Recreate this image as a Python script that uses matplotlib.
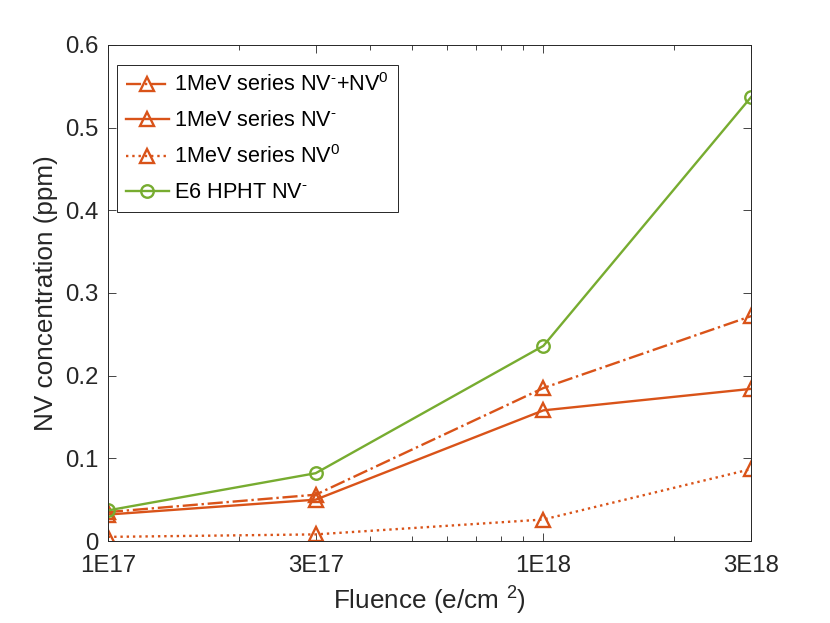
import numpy as np
import matplotlib
matplotlib.use("Agg")
import matplotlib.pyplot as plt
from matplotlib.ticker import FixedLocator, LogLocator, NullFormatter

# ── data ──────────────────────────────────────────────────────────────────────
fluence = [1e17, 3e17, 1e18, 3e18]
fluence_labels = ["1E17", "3E17", "1E18", "3E18"]

nv_total_1mev = [0.035, 0.056, 0.185, 0.272]
nv_minus_1mev = [0.032, 0.050, 0.158, 0.184]
nv_zero_1mev = [0.005, 0.008, 0.026, 0.087]
nv_minus_e6 = [0.037, 0.082, 0.236, 0.537]

yticks = [0, 0.1, 0.2, 0.3, 0.4, 0.5, 0.6]
ytick_labels = ["0", "0.1", "0.2", "0.3", "0.4", "0.5", "0.6"]

orange = "#D95319"
green = "#77AC30"
dark = "#262626"

plt.rcParams["font.family"] = ["Liberation Sans", "DejaVu Sans"]
plt.rcParams["mathtext.fontset"] = "custom"
plt.rcParams["mathtext.rm"] = "Liberation Sans"
plt.rcParams["mathtext.it"] = "Liberation Sans:italic"
plt.rcParams["font.size"] = 17.3

fig = plt.figure(figsize=(8.3, 6.23), dpi=100)
ax = fig.add_axes([0.130, 0.1316, 0.775, 0.7964])

# ── lines ─────────────────────────────────────────────────────────────────────
mk = dict(markersize=10.5, markeredgewidth=1.7, markerfacecolor="none", lw=1.7)
ax.plot(fluence, nv_total_1mev, "-.^", color=orange,
        label=r"1MeV series NV$^{\text{-}}$+NV$^{0}$", **mk)
ax.plot(fluence, nv_minus_1mev, "-^", color=orange,
        label=r"1MeV series NV$^{\text{-}}$", **mk)
ax.plot(fluence, nv_zero_1mev, ":^", color=orange,
        label=r"1MeV series NV$^{0}$", **mk)
ax.plot(fluence, nv_minus_e6, "-o", color=green, label=r"E6 HPHT NV$^{\text{-}}$",
        markersize=9, markeredgewidth=1.7, markerfacecolor="none", lw=1.7)

# ── axes ──────────────────────────────────────────────────────────────────────
ax.set_xscale("log")
ax.set_xlim(1e17, 3e18)
ax.set_ylim(0, 0.6)
ax.xaxis.set_major_locator(FixedLocator(fluence))
ax.set_xticklabels(fluence_labels)
ax.xaxis.set_minor_locator(LogLocator(base=10, subs=np.arange(2, 10)))
ax.xaxis.set_minor_formatter(NullFormatter())
ax.set_yticks(yticks)
ax.set_yticklabels(ytick_labels)

ax.tick_params(which="both", direction="in", top=True, right=True,
               colors=dark, width=0.6, labelcolor=dark)
ax.tick_params(which="major", length=6)
ax.tick_params(which="minor", length=3.5)
ax.tick_params(axis="x", which="major", pad=10)
ax.tick_params(axis="y", which="major", pad=7)
for s in ax.spines.values():
    s.set_color(dark)
    s.set_linewidth(0.7)

ax.set_xlabel(r"Fluence (e/cm $^{2}$)", color=dark, fontsize=18.8, labelpad=6)
ax.set_ylabel("NV concentration (ppm)", color=dark, fontsize=18.8, labelpad=5)

# ── legend ────────────────────────────────────────────────────────────────────
leg = ax.legend(loc="upper left", bbox_to_anchor=(0.014, 0.96), borderaxespad=0,
                fontsize=15.6, fancybox=False, framealpha=1, edgecolor=dark,
                handlelength=2.0, labelspacing=0.65, handletextpad=0.25,
                borderpad=0.4)
leg.get_frame().set_linewidth(0.7)

fig.savefig("out.png", dpi=100)
